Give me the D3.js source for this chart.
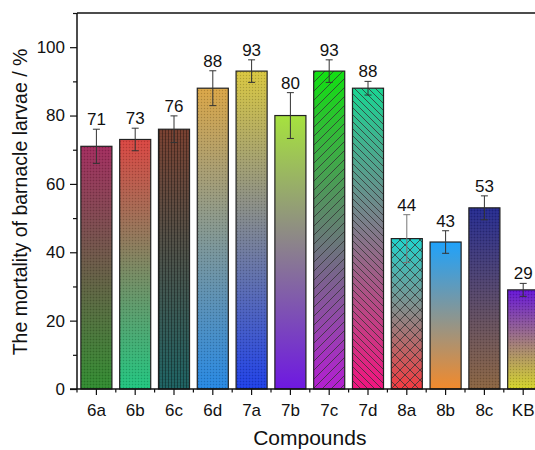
<!DOCTYPE html>
<html>
<head>
<meta charset="utf-8">
<script src="https://cdn.jsdelivr.net/npm/d3@7"></script>
<style>
  body { margin: 0; background: #fff; }
  svg { display: block; font-family: "Liberation Sans", Arial, sans-serif; }
</style>
</head>
<body>
<svg id="mysvg" width="535" height="450"></svg>
<script>
// chart data
var compounds = ["6a", "6b", "6c", "6d", "7a", "7b", "7c", "7d", "8a", "8b", "8c", "KB"];
var mortality = [71, 73, 76, 88, 93, 80, 93, 88, 44, 43, 53, 29];
var errors = [5, 3.3, 3.9, 5.1, 3.3, 6.7, 3.3, 2, 7, 3.3, 3.5, 1.9];
var topColors = ["#a02a5c", "#d94440", "#7b4232", "#d9a444", "#d8c63e", "#a6e23e", "#12e012", "#1ad592", "#20d4cc", "#1fa2fb", "#23298e", "#6412d6"];
var bottomColors = ["#2e8a2e", "#1ec47e", "#1f6565", "#2486e2", "#1c3ee6", "#6e18e2", "#b41ed2", "#f21480", "#f53a40", "#f28a2c", "#8a6440", "#d4d428"];
var fills = ["dots", "dots", "stripes", "dots", "dots", "none", "fwd", "back", "cross", "none", "dots", "dots"];
var yTicks = [0, 20, 40, 60, 80, 100];

var svg = d3.select("#mysvg");
var plotLeft = 77, plotTop = 13, plotBottom = 389;
var step = 38.8;

var x = d3.scaleBand()
	.domain(compounds)
	.range([plotLeft, plotLeft + step * compounds.length])
	.paddingInner(0.2)
	.paddingOuter(0.1);

var y = d3.scaleLinear().domain([0, 110]).range([plotBottom, plotTop]);

var defs = svg.append("defs");

// gradients for every bar
for (var i = 0 ; i < compounds.length ; ++i) {
	var grad = defs.append("linearGradient")
		.attr("id", "grad" + i)
		.attr("x1", 0).attr("y1", 0).attr("x2", 0).attr("y2", 1);
	grad.append("stop").attr("offset", "0%").attr("stop-color", topColors[i]);
	grad.append("stop").attr("offset", "100%").attr("stop-color", bottomColors[i]);
}

// textures
var p;
p = defs.append("pattern").attr("id", "dots").attr("patternUnits", "userSpaceOnUse")
	.attr("width", 3).attr("height", 3);
p.append("rect").attr("width", 1).attr("height", 1).attr("fill", "rgba(0,0,0,0.18)");
p.append("rect").attr("x", 1.5).attr("y", 1.5).attr("width", 1).attr("height", 1).attr("fill", "rgba(255,255,255,0.15)");

p = defs.append("pattern").attr("id", "stripes").attr("patternUnits", "userSpaceOnUse")
	.attr("width", 3).attr("height", 3);
p.append("rect").attr("width", 1).attr("height", 3).attr("fill", "rgba(0,0,0,0.35)");
p.append("rect").attr("y", 1).attr("width", 3).attr("height", 0.6).attr("fill", "rgba(0,0,0,0.15)");

p = defs.append("pattern").attr("id", "fwd").attr("patternUnits", "userSpaceOnUse")
	.attr("width", 9).attr("height", 9);
p.append("path").attr("d", "M0,9 L9,0 M-2,2 L2,-2 M7,11 L11,7")
	.attr("stroke", "#333").attr("stroke-width", 0.8);

p = defs.append("pattern").attr("id", "back").attr("patternUnits", "userSpaceOnUse")
	.attr("width", 7).attr("height", 7);
p.append("path").attr("d", "M0,0 L7,7 M-2,5 L2,9 M5,-2 L9,2")
	.attr("stroke", "#333").attr("stroke-width", 0.8);

p = defs.append("pattern").attr("id", "cross").attr("patternUnits", "userSpaceOnUse")
	.attr("width", 10).attr("height", 10);
p.append("path").attr("d", "M0,0 L10,10 M0,10 L10,0")
	.attr("stroke", "#333").attr("stroke-width", 0.8);

// bars
var bars = svg.append("g");
compounds.forEach(function (c, i) {
	bars.append("rect")
		.attr("x", x(c)).attr("y", y(mortality[i]))
		.attr("width", x.bandwidth()).attr("height", y(0) - y(mortality[i]))
		.attr("fill", "url(#grad" + i + ")");
	if (fills[i] !== "none") {
		bars.append("rect")
			.attr("x", x(c)).attr("y", y(mortality[i]))
			.attr("width", x.bandwidth()).attr("height", y(0) - y(mortality[i]))
			.attr("fill", "url(#" + fills[i] + ")");
	}
	bars.append("rect")
		.attr("x", x(c)).attr("y", y(mortality[i]))
		.attr("width", x.bandwidth()).attr("height", y(0) - y(mortality[i]))
		.attr("fill", "none").attr("stroke", "#222").attr("stroke-width", 1.2);
});

// error bars
var err = svg.append("g").attr("stroke", "#333").attr("stroke-width", 1);
compounds.forEach(function (c, i) {
	var cx = x(c) + x.bandwidth() / 2;
	var hi = y(mortality[i] + errors[i]), lo = y(mortality[i] - errors[i]);
	var col = fills[i] === "cross" ? "#777" : "#333";
	err.append("line").attr("x1", cx).attr("x2", cx).attr("y1", hi).attr("y2", lo).attr("stroke", col);
	err.append("line").attr("x1", cx - 3.5).attr("x2", cx + 3.5).attr("y1", hi).attr("y2", hi).attr("stroke", col);
	err.append("line").attr("x1", cx - 3.5).attr("x2", cx + 3.5).attr("y1", lo).attr("y2", lo).attr("stroke", col);
	svg.append("text")
		.attr("x", cx).attr("y", hi - 4)
		.attr("text-anchor", "middle")
		.attr("font-size", 17).attr("fill", "#111")
		.text(mortality[i]);
});

// y axis
var yAxis = svg.append("g").attr("transform", "translate(" + plotLeft + ",0)")
	.call(d3.axisLeft(y).tickValues(yTicks).tickSize(7).tickPadding(5));
yAxis.select(".domain").remove();
yAxis.selectAll("text").attr("font-size", 17).attr("fill", "#111").attr("font-family", "Liberation Sans, Arial, sans-serif");
yAxis.selectAll("line").attr("stroke", "#111").attr("stroke-width", 1.2);
svg.append("g").attr("transform", "translate(" + plotLeft + ",0)")
	.call(d3.axisLeft(y).tickValues([10, 30, 50, 70, 90, 110]).tickSize(4).tickFormat(""))
	.call(function (g) { g.select(".domain").remove(); g.selectAll("line").attr("stroke", "#111").attr("stroke-width", 1.2); });

// x axis
var xAxis = svg.append("g").attr("transform", "translate(0," + plotBottom + ")")
	.call(d3.axisBottom(x).tickSize(6).tickPadding(9));
xAxis.select(".domain").remove();
xAxis.selectAll("text").attr("font-size", 17).attr("fill", "#111").attr("font-family", "Liberation Sans, Arial, sans-serif");
xAxis.selectAll("line").attr("stroke", "#111").attr("stroke-width", 1.2);
var minorX = svg.append("g");
for (var k = 0 ; k <= compounds.length ; ++k) {
	var bx = plotLeft + k * x.step();
	minorX.append("line").attr("x1", bx).attr("x2", bx).attr("y1", plotBottom).attr("y2", plotBottom + 3.5)
		.attr("stroke", "#111").attr("stroke-width", 1.2);
}

// frame lines
svg.append("line").attr("x1", plotLeft).attr("x2", plotLeft).attr("y1", plotTop).attr("y2", plotBottom)
	.attr("stroke", "#111").attr("stroke-width", 1.5);
svg.append("line").attr("x1", plotLeft).attr("x2", 535).attr("y1", plotTop).attr("y2", plotTop)
	.attr("stroke", "#111").attr("stroke-width", 1.5);
svg.append("line").attr("x1", plotLeft - 7).attr("x2", 535).attr("y1", plotBottom).attr("y2", plotBottom)
	.attr("stroke", "#111").attr("stroke-width", 1.5);

// titles
svg.append("text")
	.attr("x", (plotLeft + plotLeft + step * compounds.length) / 2).attr("y", 445)
	.attr("text-anchor", "middle").attr("font-size", 21).attr("fill", "#111")
	.text("Compounds");
svg.append("text")
	.attr("transform", "translate(27," + ((plotTop + plotBottom) / 2 + 1) + ") rotate(-90)")
	.attr("text-anchor", "middle").attr("font-size", 19.5).attr("fill", "#111")
	.text("The mortality of barnacle larvae / %");
</script>
</body>
</html>
